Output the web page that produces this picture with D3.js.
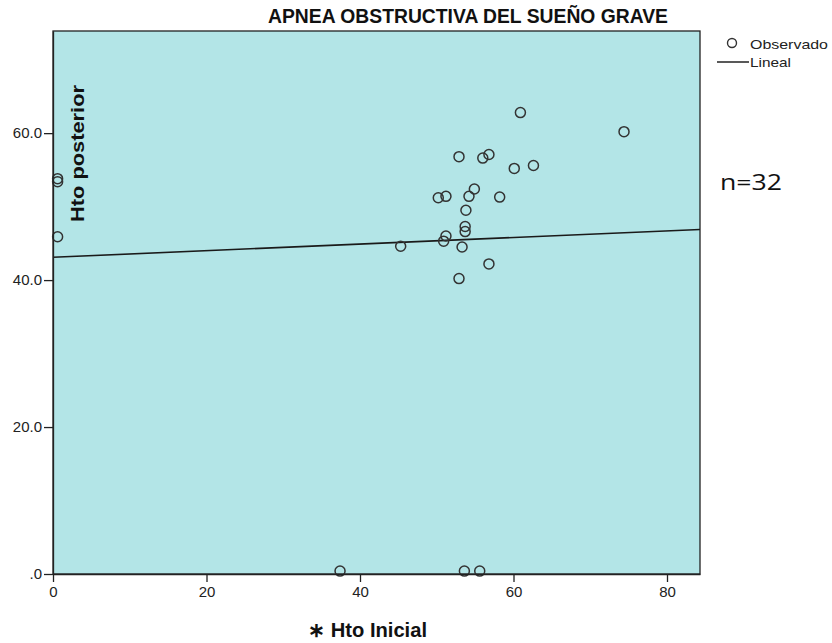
<!DOCTYPE html>
<html><head><meta charset="utf-8">
<script src="https://cdn.jsdelivr.net/npm/d3@7"></script>
<style>body{margin:0;background:#fff}svg{display:block}</style>
</head><body>
<svg id="c" width="832" height="643"></svg>
<script>
const title = "APNEA OBSTRUCTIVA DEL SUEÑO GRAVE";
const xLabel = "∗ Hto Inicial";
const yLabel = "Hto posterior";
const xTicks = [0, 20, 40, 60, 80];
const yTicks = [0, 20, 40, 60];
const yTickLabels = [".0", "20.0", "40.0", "60.0"];
const htoInicial = [0.6, 0.6, 0.6, 60.9, 74.4, 52.9, 56.0, 56.8, 60.1, 62.6, 50.2, 51.2, 54.9, 54.2, 58.2, 53.8, 53.7, 53.7, 51.2, 50.9, 45.3, 53.3, 56.8, 52.9, 37.4, 53.6, 55.6];
const htoPosterior = [53.8, 53.4, 45.9, 62.8, 60.2, 56.8, 56.6, 57.1, 55.2, 55.6, 51.2, 51.4, 52.4, 51.4, 51.3, 49.5, 47.3, 46.6, 46.0, 45.3, 44.6, 44.5, 42.2, 40.2, 0.4, 0.4, 0.4];
const fitIntercept = 43.1, fitSlope = 0.045;
const legendLabels = ["Observado", "Lineal"];
const note = "n=32";

const svg = d3.select("#c");
const L = 53, R = 700, T = 31, B = 574;
const x = d3.scaleLinear().domain([0, 84.3]).range([L, R]);
const y = d3.scaleLinear().domain([0, 73.9]).range([B, T]);
const font = "'Liberation Sans', Arial, sans-serif";

svg.append("rect").attr("x", L).attr("y", T).attr("width", R - L).attr("height", B - T)
  .attr("fill", "#b3e5e7").attr("stroke", "#222").attr("stroke-width", 1.3);

// regression line
const xd = x.domain();
svg.append("line").attr("x1", x(xd[0])).attr("y1", y(fitIntercept + fitSlope * xd[0]))
  .attr("x2", x(xd[1])).attr("y2", y(fitIntercept + fitSlope * xd[1]))
  .attr("stroke", "#1a1a1a").attr("stroke-width", 1.6);

// points
svg.append("g").selectAll("circle").data(htoInicial).join("circle")
  .attr("cx", (d) => x(d)).attr("cy", (d, i) => y(htoPosterior[i])).attr("r", 5)
  .attr("fill", "none").attr("stroke", "#333").attr("stroke-width", 1.5);

// axes
const xAxis = svg.append("g").attr("transform", `translate(0,${B})`)
  .call(d3.axisBottom(x).tickValues(xTicks).tickSize(8).tickSizeOuter(0).tickPadding(4).tickFormat(d3.format("d")));
xAxis.select(".domain").attr("stroke", "#222").attr("stroke-width", 1.3);
xAxis.selectAll("text").attr("font-family", font).attr("font-size", 15).attr("fill", "#222").attr("dy", "0.72em");
const yAxis = svg.append("g").attr("transform", `translate(${L},0)`)
  .call(d3.axisLeft(y).tickValues(yTicks).tickSize(9).tickSizeOuter(0).tickPadding(2).tickFormat((d, i) => yTickLabels[i]));
yAxis.select(".domain").attr("stroke", "#222").attr("stroke-width", 1.3);
yAxis.selectAll("text").attr("font-family", font).attr("font-size", 15).attr("fill", "#222");
svg.selectAll(".tick line").attr("stroke", "#222").attr("stroke-width", 1.3);

// title
svg.append("text").attr("x", 468).attr("y", 23).attr("text-anchor", "middle")
  .attr("font-family", font).attr("font-weight", "bold").attr("font-size", 19.5).attr("fill", "#111")
  .attr("textLength", 400).attr("lengthAdjust", "spacingAndGlyphs").text(title);

// y label
svg.append("text").attr("transform", `translate(84,153.5) rotate(-90)`).attr("text-anchor", "middle")
  .attr("font-family", font).attr("font-weight", "bold").attr("font-size", 17.5).attr("fill", "#111")
  .attr("textLength", 137).attr("lengthAdjust", "spacingAndGlyphs").text(yLabel);

// x label
svg.append("text").attr("x", 367.5).attr("y", 637).attr("text-anchor", "middle")
  .attr("font-family", font).attr("font-weight", "bold").attr("font-size", 20).attr("fill", "#111")
  .attr("textLength", 119).attr("lengthAdjust", "spacingAndGlyphs").text(xLabel);

// legend
svg.append("circle").attr("cx", 732).attr("cy", 43).attr("r", 4.5).attr("fill", "none").attr("stroke", "#333").attr("stroke-width", 1.4);
svg.append("text").attr("x", 750).attr("y", 49).attr("font-family", font).attr("font-size", 13.5).attr("fill", "#222")
  .attr("textLength", 78).attr("lengthAdjust", "spacingAndGlyphs").text(legendLabels[0]);
svg.append("line").attr("x1", 717).attr("x2", 749).attr("y1", 62).attr("y2", 62).attr("stroke", "#222").attr("stroke-width", 1.5);
svg.append("text").attr("x", 750).attr("y", 67).attr("font-family", font).attr("font-size", 13.5).attr("fill", "#222")
  .attr("textLength", 41).attr("lengthAdjust", "spacingAndGlyphs").text(legendLabels[1]);

// note
svg.append("text").attr("x", 720).attr("y", 190).attr("font-family", "'Open Sans', 'Liberation Sans', sans-serif").attr("font-size", 22).attr("fill", "#111")
  .attr("textLength", 62).attr("lengthAdjust", "spacingAndGlyphs").text(note);
</script>
</body></html>
